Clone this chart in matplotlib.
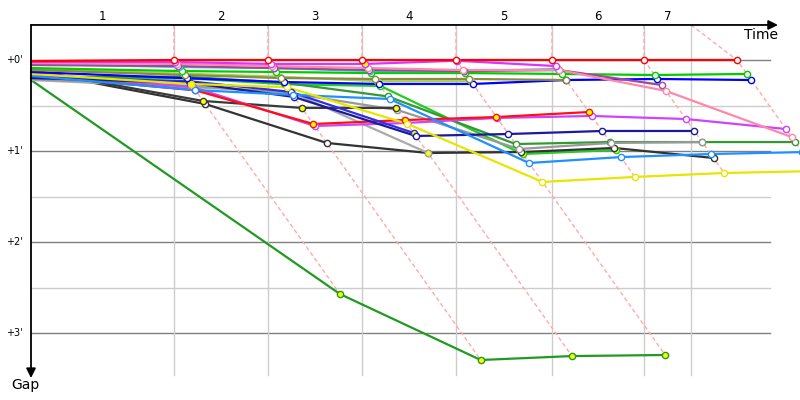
import matplotlib
matplotlib.use("Agg")
import matplotlib.pyplot as plt

# ---------------- data (seconds) ----------------
lap_labels = ["1", "2", "3", "4", "5", "6", "7"]
# leader crossing time for each lap
leader_times = [132.9, 220.3, 307.7, 395.1, 484.3, 569.9, 656.3]
# time-axis reference lines (last one = current time)
grid_times = [132.9, 220.3, 307.7, 395.1, 484.3, 569.9, 613.6]
gap_ticks = [0, 60, 120, 180]
gap_tick_labels = ["+0'", "+1'", "+2'", "+3'"]
gap_minor = [30, 90, 150]

# name -> colour, gap at start, gaps at end of each lap, laps with yellow marker
drv_names = ["red", "magenta", "pink", "purple", "cyan", "green", "olive", "blue",
             "yellowgreen", "yellow", "dodger", "navy", "blue2", "red2", "violet",
             "black1", "gray", "lightgray", "black2", "seagreen", "green2", "forest"]
drv_colors = ["#ff0000", "#dd33ff", "#ff88aa", "#9a4a9a", "#33cccc", "#00cc00",
              "#8a8a40", "#0000ff", "#aacc55", "#e6e600", "#1e90ff", "#1a1a9a",
              "#3030e0", "#ff1010", "#cc44ff", "#3a3a3a", "#999999", "#aaaaaa",
              "#333333", "#339933", "#22cc22", "#229922"]
drv_start = [0.7, 1.3, 2.0, 3.3, 2.6, 5.3, 6.6, 7.9, 5.9, 9.2, 10.5, 11.9,
             11.2, 9.9, 8.6, 6.6, 12.5, 13.2, 7.3, 11.2, 11.9, 13.2]
drv_gaps = [
    [0, 0, 0, 0, 0, 0, 0],
    [1.3, 2.6, 2.6, 0.5, 4.0],
    [2.6, 4.0, 5.3, 6.6, 6.6, 20.4, 50.8],
    [4.0, 5.3, 6.6, 7.3, 6.6, 16.5],
    [4.6, 5.3, 7.3, 7.3, 5.9],
    [7.3, 7.9, 8.6, 8.6, 9.2, 9.9, 9.2],
    [9.9, 11.9, 12.5, 12.5, 13.2],
    [12.0, 14.5, 15.8, 15.8, 13.2, 12.5, 13.2],
    [9.0, 11.0, 14.0, 14.0],
    [15.8, 18.0, 42.0, 80.4, 77.1, 74.5, 73.2],
    [19.8, 23.0, 25.7, 67.9, 64.0, 62.0, 60.7],
    [15.0, 24.4, 50.1, 48.8, 46.8, 46.8],
    [14.0, 21.0, 48.1],
    [20.0, 42.2, 39.6, 37.6, 34.3],
    [18.0, 43.5, 41.5, 38.2, 36.9, 38.9, 45.5],
    [27.0, 31.6, 31.6],
    [17.0, 22.0, 33.0, 58.7, 54.7, 54.1],
    [18.0, 21.0, 61.3],
    [29.0, 54.7, 61.3, 60.7, 58.0, 64.6],
    [11.0, 15.0, 24.0, 55.4, 54.1, 54.1, 54.1],
    [12.0, 16.0, 17.1, 62.0, 59.3],
    [154.3, 197.8, 195.2, 194.5],
]
drv_yellow = [[], [3, 4], [], [], [], [], [], [], [], [1], [], [], [3], [1, 2, 3, 4, 5],
              [], [1, 2, 3], [], [3], [], [], [4, 5], [1, 2, 3, 4]]

# ---------------- layout ----------------
fig = plt.figure(figsize=(8, 4), dpi=100)
ax = fig.add_axes([0, 0, 1, 1])
ax.set_xlim(-28.82, 714.9)
ax.set_ylim(224.17, -39.56)
ax.axis("off")

top = -23.1
bottom = 207.7
right = 687.0

# grid
for g in gap_minor:
    ax.plot([0, right], [g, g], color="#cccccc", lw=1, zorder=1)
for g in gap_ticks:
    ax.plot([0, right], [g, g], color="#808080", lw=1, zorder=1)
for t in grid_times:
    ax.plot([t, t], [top, bottom], color="#cccccc", lw=1, zorder=1)

# lap dashed lines
for k, tl in enumerate(leader_times):
    gs = [d[k] for d in drv_gaps if len(d) > k]
    gmax = max(gs)
    ax.plot([grid_times[k], tl, tl + gmax], [top, 0, gmax], color="#ffaaaa",
            lw=1, ls=(0, (3, 2)), zorder=2)

# drivers
for i in reversed(range(len(drv_names))):
    gaps = drv_gaps[i]
    xs = [0] + [leader_times[k] + g for k, g in enumerate(gaps)]
    ys = [drv_start[i]] + list(gaps)
    ax.plot(xs, ys, color=drv_colors[i], lw=1.6, zorder=3 + 0.01 * (len(drv_names) - i),
            solid_capstyle="round")
    for k, g in enumerate(gaps):
        face = "#ffff00" if (k + 1) in drv_yellow[i] else "white"
        ax.plot(leader_times[k] + g, g, "o", ms=4.5, mfc=face, mec=drv_colors[i],
                mew=1, zorder=4 + 0.01 * (len(drv_names) - i))

# axes arrows
ax.annotate("", xy=(694.4, top), xytext=(0, top),
            arrowprops=dict(arrowstyle="-|>", color="black", lw=1.3,
                            mutation_scale=14, shrinkA=0, shrinkB=0), zorder=6)
ax.annotate("", xy=(0, 209.7), xytext=(0, top),
            arrowprops=dict(arrowstyle="-|>", color="black", lw=1.3,
                            mutation_scale=14, shrinkA=0, shrinkB=0), zorder=6)

# labels
edges = [0] + grid_times
for k, lab in enumerate(lap_labels):
    ax.text((edges[k] + edges[k + 1]) / 2, -28.4, lab, ha="center", va="center",
            fontsize=8.5, family="DejaVu Sans")
for g, lab in zip(gap_ticks, gap_tick_labels):
    ax.text(-8.0, g, lab, ha="right", va="center", fontsize=7, family="DejaVu Sans")
ax.text(678.6, -16.5, "Time", ha="center", va="center", fontsize=10, family="DejaVu Sans")
ax.text(-5.6, 214.3, "Gap", ha="center", va="center", fontsize=10, family="DejaVu Sans")

fig.savefig("out.png", dpi=100)
